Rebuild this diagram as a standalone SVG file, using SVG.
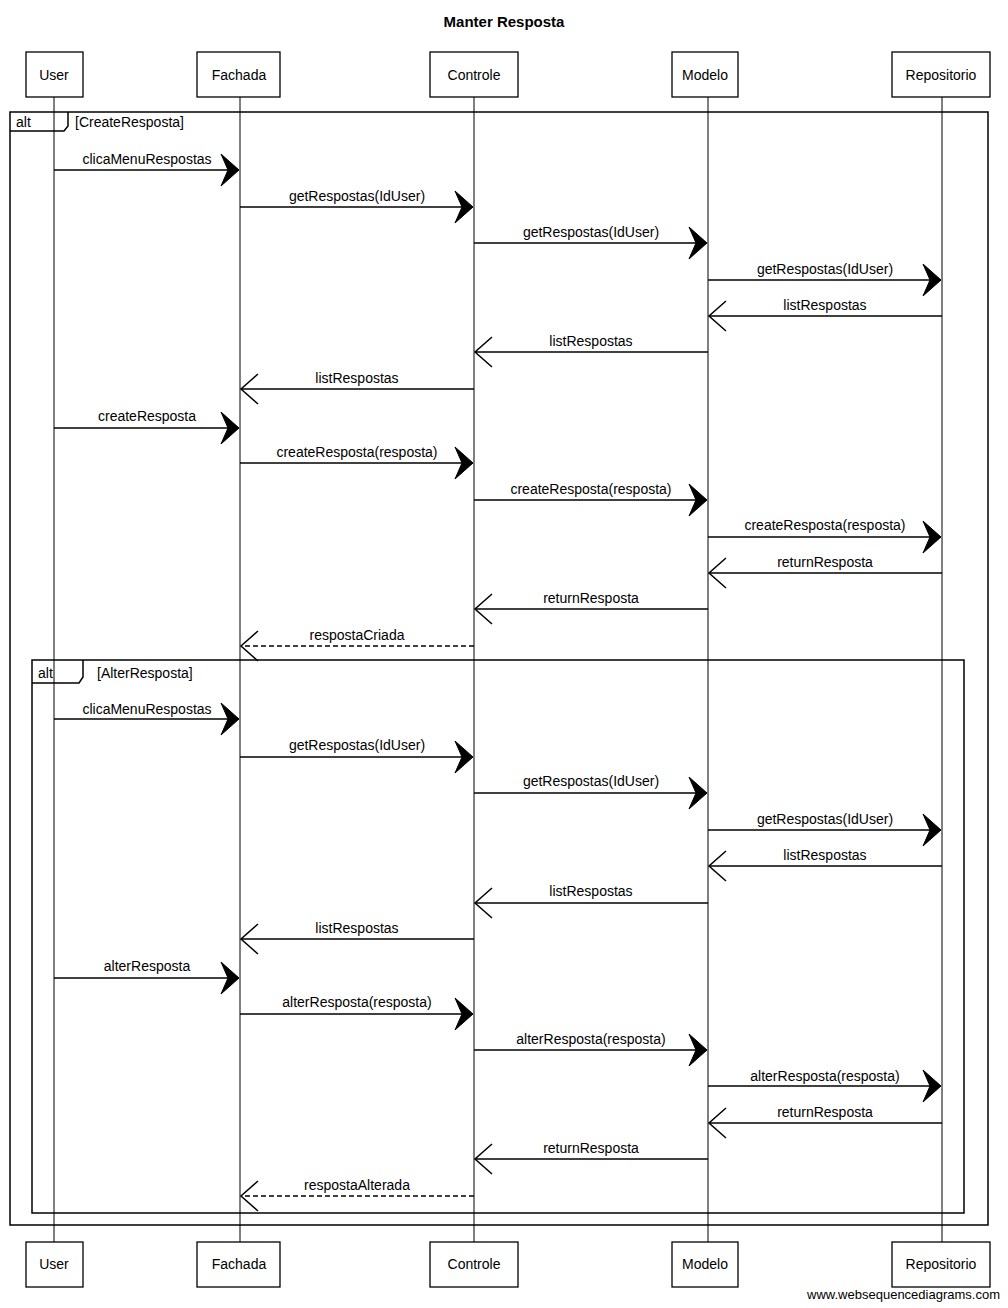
<svg xmlns="http://www.w3.org/2000/svg" width="1008" height="1308" viewBox="0 0 1008 1308">
<style>
text{font-family:"Liberation Sans","DejaVu Sans",sans-serif;fill:#000}
.box{fill:#fff;stroke:#000;stroke-width:1.3}
.pl{font-size:14px;text-anchor:middle}
.life{stroke:#000;stroke-width:1}
.msg{stroke:#000;stroke-width:1.5;fill:none;marker-end:url(#fill)}
.ret{stroke:#000;stroke-width:1.5;fill:none;marker-end:url(#open)}
.dash{stroke-dasharray:5,3}
.lbl{font-size:14px;text-anchor:middle}
.frame{fill:none;stroke:#000;stroke-width:1.5}
.tag{font-size:14px}
</style>
<defs>
<marker id="fill" markerUnits="userSpaceOnUse" markerWidth="24" markerHeight="36" refX="20" refY="17" orient="auto" overflow="visible">
<path d="M20,17 L2,1 L9,17 L2,33 Z" fill="#000" stroke="#000" stroke-width="1"/>
</marker>
<marker id="open" markerUnits="userSpaceOnUse" markerWidth="24" markerHeight="36" refX="20" refY="17" orient="auto" overflow="visible">
<path d="M3,2 L20,17 L3,32" fill="none" stroke="#000" stroke-width="1.5"/>
</marker>
</defs>
<rect width="1008" height="1308" fill="#fff"/>
<text x="504" y="27" font-size="15" font-weight="bold" text-anchor="middle">Manter Resposta</text>

<g id="lifelines">
<line class="life" x1="54" y1="97" x2="54" y2="1242"/>
<line class="life" x1="240" y1="97" x2="240" y2="1242"/>
<line class="life" x1="474" y1="97" x2="474" y2="1242"/>
<line class="life" x1="708" y1="97" x2="708" y2="1242"/>
<line class="life" x1="942" y1="97" x2="942" y2="1242"/>
</g>

<g id="frame-outer">
<rect class="frame" x="10" y="112" width="978" height="1113"/>
<path class="frame" d="M10,131 L64,131 L68,126 L68,112"/>
<text class="tag" x="16" y="127">alt</text>
<text class="tag" x="75" y="127">[CreateResposta]</text>
</g>
<g id="frame-inner">
<rect class="frame" x="32" y="660" width="932" height="553"/>
<path class="frame" d="M32,683 L79,683 L83,677 L83,660"/>
<text class="tag" x="38" y="678">alt</text>
<text class="tag" x="97" y="678">[AlterResposta]</text>
</g>

<g id="User"><rect class="box" x="26" y="52" width="57" height="45"/><text class="pl" x="54" y="80">User</text></g>
<g id="Fachada"><rect class="box" x="197" y="52" width="83" height="45"/><text class="pl" x="239" y="80">Fachada</text></g>
<g id="Controle"><rect class="box" x="430" y="52" width="88" height="45"/><text class="pl" x="474" y="80">Controle</text></g>
<g id="Modelo"><rect class="box" x="672" y="52" width="66" height="45"/><text class="pl" x="705" y="80">Modelo</text></g>
<g id="Repositorio"><rect class="box" x="892" y="52" width="98" height="45"/><text class="pl" x="941" y="80">Repositorio</text></g>

<g id="User-bottom"><rect class="box" x="26" y="1242" width="57" height="45"/><text class="pl" x="54" y="1269">User</text></g>
<g id="Fachada-bottom"><rect class="box" x="197" y="1242" width="83" height="45"/><text class="pl" x="239" y="1269">Fachada</text></g>
<g id="Controle-bottom"><rect class="box" x="430" y="1242" width="88" height="45"/><text class="pl" x="474" y="1269">Controle</text></g>
<g id="Modelo-bottom"><rect class="box" x="672" y="1242" width="66" height="45"/><text class="pl" x="705" y="1269">Modelo</text></g>
<g id="Repositorio-bottom"><rect class="box" x="892" y="1242" width="98" height="45"/><text class="pl" x="941" y="1269">Repositorio</text></g>

<g id="connectors">
<line class="msg" x1="54" y1="170" x2="239" y2="170"/>
<line class="msg" x1="240" y1="207" x2="473" y2="207"/>
<line class="msg" x1="474" y1="243" x2="707" y2="243"/>
<line class="msg" x1="708" y1="280" x2="941" y2="280"/>
<line class="ret" x1="942" y1="316" x2="709" y2="316"/>
<line class="ret" x1="708" y1="352" x2="475" y2="352"/>
<line class="ret" x1="474" y1="389" x2="241" y2="389"/>
<line class="msg" x1="54" y1="428" x2="239" y2="428"/>
<line class="msg" x1="240" y1="463" x2="473" y2="463"/>
<line class="msg" x1="474" y1="500" x2="707" y2="500"/>
<line class="msg" x1="708" y1="537" x2="941" y2="537"/>
<line class="ret" x1="942" y1="573" x2="709" y2="573"/>
<line class="ret" x1="708" y1="609" x2="475" y2="609"/>
<line class="ret dash" x1="474" y1="646" x2="241" y2="646"/>
<line class="msg" x1="54" y1="719" x2="239" y2="719"/>
<line class="msg" x1="240" y1="757" x2="473" y2="757"/>
<line class="msg" x1="474" y1="793" x2="707" y2="793"/>
<line class="msg" x1="708" y1="830" x2="941" y2="830"/>
<line class="ret" x1="942" y1="866" x2="709" y2="866"/>
<line class="ret" x1="708" y1="903" x2="475" y2="903"/>
<line class="ret" x1="474" y1="939" x2="241" y2="939"/>
<line class="msg" x1="54" y1="978" x2="239" y2="978"/>
<line class="msg" x1="240" y1="1014" x2="473" y2="1014"/>
<line class="msg" x1="474" y1="1050" x2="707" y2="1050"/>
<line class="msg" x1="708" y1="1086" x2="941" y2="1086"/>
<line class="ret" x1="942" y1="1123" x2="709" y2="1123"/>
<line class="ret" x1="708" y1="1159" x2="475" y2="1159"/>
<line class="ret dash" x1="474" y1="1196" x2="241" y2="1196"/>
</g>

<g id="labels">
<text class="lbl" x="147" y="164">clicaMenuRespostas</text>
<text class="lbl" x="357" y="201">getRespostas(IdUser)</text>
<text class="lbl" x="591" y="237">getRespostas(IdUser)</text>
<text class="lbl" x="825" y="274">getRespostas(IdUser)</text>
<text class="lbl" x="825" y="310">listRespostas</text>
<text class="lbl" x="591" y="346">listRespostas</text>
<text class="lbl" x="357" y="383">listRespostas</text>
<text class="lbl" x="147" y="421">createResposta</text>
<text class="lbl" x="357" y="457">createResposta(resposta)</text>
<text class="lbl" x="591" y="494">createResposta(resposta)</text>
<text class="lbl" x="825" y="530">createResposta(resposta)</text>
<text class="lbl" x="825" y="567">returnResposta</text>
<text class="lbl" x="591" y="603">returnResposta</text>
<text class="lbl" x="357" y="640">respostaCriada</text>
<text class="lbl" x="147" y="714">clicaMenuRespostas</text>
<text class="lbl" x="357" y="750">getRespostas(IdUser)</text>
<text class="lbl" x="591" y="786">getRespostas(IdUser)</text>
<text class="lbl" x="825" y="824">getRespostas(IdUser)</text>
<text class="lbl" x="825" y="860">listRespostas</text>
<text class="lbl" x="591" y="896">listRespostas</text>
<text class="lbl" x="357" y="933">listRespostas</text>
<text class="lbl" x="147" y="971">alterResposta</text>
<text class="lbl" x="357" y="1007">alterResposta(resposta)</text>
<text class="lbl" x="591" y="1044">alterResposta(resposta)</text>
<text class="lbl" x="825" y="1081">alterResposta(resposta)</text>
<text class="lbl" x="825" y="1117">returnResposta</text>
<text class="lbl" x="591" y="1153">returnResposta</text>
<text class="lbl" x="357" y="1190">respostaAlterada</text>
</g>

<text x="1000" y="1299" font-size="13" text-anchor="end" font-family="Liberation Sans Narrow,Liberation Sans,sans-serif">www.websequencediagrams.com</text>
</svg>
